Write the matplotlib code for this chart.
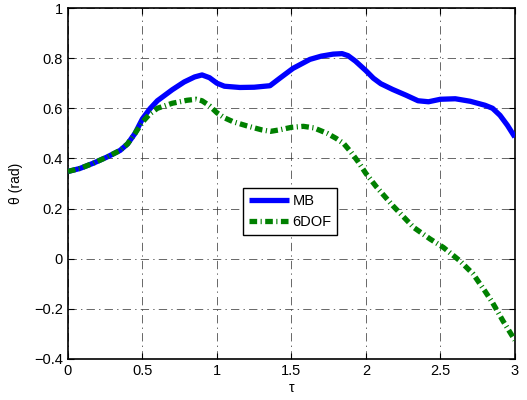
import matplotlib
matplotlib.use("Agg")
import matplotlib.pyplot as plt

# values
mb_tau = [0.0, 0.08, 0.17, 0.26, 0.35, 0.40, 0.45, 0.50, 0.55, 0.60, 0.70, 0.78, 0.85, 0.90, 0.95,
          1.0, 1.05, 1.154, 1.25, 1.356, 1.42, 1.51, 1.624, 1.70, 1.78, 1.84, 1.88, 1.93, 2.0,
          2.05, 2.10, 2.18, 2.27, 2.35, 2.42, 2.50, 2.60, 2.70, 2.80, 2.85, 2.90, 2.95, 3.0]
mb_theta = [0.348, 0.36, 0.381, 0.405, 0.432, 0.458, 0.50, 0.558, 0.598, 0.630, 0.674, 0.705, 0.725,
            0.733, 0.722, 0.700, 0.688, 0.683, 0.684, 0.690, 0.719, 0.759, 0.795, 0.808, 0.816,
            0.818, 0.810, 0.788, 0.750, 0.720, 0.698, 0.675, 0.652, 0.630, 0.626, 0.636, 0.638,
            0.628, 0.612, 0.600, 0.572, 0.532, 0.485]

dof_tau = [0.0, 0.08, 0.17, 0.26, 0.35, 0.40, 0.45, 0.50, 0.55, 0.60, 0.70, 0.80, 0.86, 0.90,
           0.95, 1.0, 1.05, 1.11, 1.20, 1.30, 1.36, 1.42, 1.50, 1.58, 1.65, 1.74, 1.80, 1.85,
           1.90, 1.95, 2.0, 2.07, 2.18, 2.32, 2.43, 2.52, 2.63, 2.72, 2.80, 2.85, 2.92, 3.0]
dof_theta = [0.348, 0.36, 0.381, 0.405, 0.432, 0.458, 0.50, 0.545, 0.578, 0.600, 0.620, 0.632,
             0.636, 0.630, 0.610, 0.582, 0.562, 0.546, 0.530, 0.514, 0.508, 0.514, 0.524, 0.528,
             0.522, 0.500, 0.480, 0.460, 0.425, 0.385, 0.340, 0.287, 0.212, 0.125, 0.079, 0.045,
             -0.008, -0.061, -0.130, -0.175, -0.248, -0.325]

x_ticks = [0, 0.5, 1, 1.5, 2, 2.5, 3]
x_labels = ["0", "0.5", "1", "1.5", "2", "2.5", "3"]
y_ticks = [-0.4, -0.2, 0, 0.2, 0.4, 0.6, 0.8, 1]
y_labels = ["\u22120.4", "\u22120.2", "0", "0.2", "0.4", "0.6", "0.8", "1"]

plt.rcParams["font.family"] = ["Liberation Sans", "DejaVu Sans"]
plt.rcParams["lines.scale_dashes"] = False

fig = plt.figure(figsize=(5.27, 4.0), dpi=100)
ax = fig.add_axes([0.129, 0.1025, 0.848, 0.8775])

ax.plot(mb_tau, mb_theta, color="#0000ff", lw=3.8, solid_joinstyle="round",
        solid_capstyle="butt", label="MB", zorder=3)
ax.plot(dof_tau, dof_theta, color="#008000", lw=3.8, dashes=(5.5, 2.5, 0.8, 2.5),
        dash_capstyle="butt", dash_joinstyle="round", label="6DOF", zorder=4)

ax.set_xlim(0, 3)
ax.set_ylim(-0.4, 1)
ax.set_xticks(x_ticks)
ax.set_xticklabels(x_labels)
ax.set_yticks(y_ticks)
ax.set_yticklabels(y_labels)
ax.tick_params(direction="in", length=4, width=0.8, labelsize=10.5, top=True, right=True)

ax.grid(True, color="#303030", linestyle=(0, (6, 3, 1, 3)), linewidth=0.6, alpha=0.85)
for s in ax.spines.values():
    s.set_linewidth(1.2)

ax.set_xlabel("\u03c4", fontsize=10, labelpad=2)
ax.set_ylabel("\u03b8 (rad)", fontsize=10, labelpad=8)

leg = ax.legend(loc="lower left", bbox_to_anchor=(0.391, 0.353), fontsize=10.5,
                fancybox=False, framealpha=1, edgecolor="black", handlelength=2.8,
                borderpad=0.4, labelspacing=0.5, handletextpad=0.2, borderaxespad=0)
leg.get_frame().set_linewidth(1.0)

fig.savefig("out.png", dpi=100)
